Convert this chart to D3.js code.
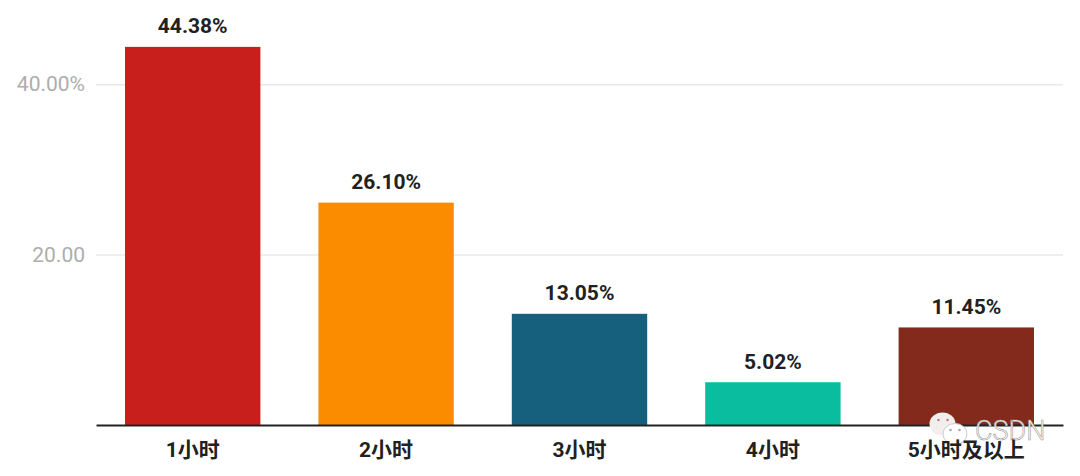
<!DOCTYPE html>
<html>
<head>
<meta charset="utf-8">
<script src="https://cdnjs.cloudflare.com/ajax/libs/d3/7.8.5/d3.min.js"></script>
<style>
  html, body { margin: 0; padding: 0; background: #fff; }
  svg { display: block; font-family: Roboto, "Noto Sans CJK SC", sans-serif; }
</style>
</head>
<body>
<svg id="chart"></svg>
<script>
const categories = ['1小时', '2小时', '3小时', '4小时', '5小时及以上'];
const values = [44.38, 26.10, 13.05, 5.02, 11.45];
const barColors = ['#c81e1c', '#fb8c00', '#17607d', '#0abd9f', '#842a1d'];
const tickValues = [20, 40];
const tickLabels = ['20.00', '40.00%'];

const width = 1080;
const height = 476;
const margin = { top: 0, right: 17, bottom: 51, left: 96 };

const svg = d3.select('#chart')
  .attr('width', width)
  .attr('height', height);

const xScale = d3.scaleBand()
  .domain(categories)
  .range([margin.left, width - margin.right])
  .paddingInner(0.3)
  .paddingOuter(0.15);

// 20 units is about 170px in the picture
const yScale = d3.scaleLinear()
  .domain([0, 50])
  .range([height - margin.bottom, height - margin.bottom - 426]);

// gridlines + tick labels
const yAxis = d3.axisLeft(yScale)
  .tickValues(tickValues)
  .tickSize(-(width - margin.left - margin.right))
  .tickPadding(11)
  .tickFormat((d, i) => tickLabels[i]);

svg.append('g')
  .attr('transform', `translate(${margin.left},0)`)
  .call(yAxis)
  .call((g) => g.select('.domain').remove())
  .call((g) => g.selectAll('.tick line').attr('stroke', '#e8e8e8').attr('stroke-width', 1.5))
  .call((g) => g.selectAll('.tick text')
    .attr('fill', '#adadad')
    .attr('font-family', 'Roboto, sans-serif')
    .attr('font-size', 21));

svg.append('g')
  .selectAll('rect')
  .data(values)
  .join('rect')
  .attr('x', (d, i) => xScale(categories[i]))
  .attr('y', (d) => yScale(d))
  .attr('width', xScale.bandwidth())
  .attr('height', (d) => yScale(0) - yScale(d))
  .attr('fill', (d, i) => barColors[i]);

// value labels above the bars
svg.append('g')
  .selectAll('text')
  .data(values)
  .join('text')
  .attr('x', (d, i) => xScale(categories[i]) + xScale.bandwidth() / 2)
  .attr('y', (d) => yScale(d) - 13.5)
  .attr('text-anchor', 'middle')
  .attr('font-size', 21)
  .attr('font-weight', 700)
  .attr('fill', '#212121')
  .text((d) => `${d.toFixed(2)}%`);

const xAxis = d3.axisBottom(xScale)
  .tickSize(0)
  .tickPadding(17);

// baseline goes under the watermark, category labels over it
svg.append('g')
  .attr('transform', `translate(0,${yScale(0)})`)
  .call(xAxis)
  .call((g) => g.selectAll('.tick').remove())
  .call((g) => g.select('.domain').attr('stroke', '#222').attr('stroke-width', 2));

// wechat style watermark
const mark = svg.append('g').attr('transform', 'translate(942.5,424)');
mark.append('ellipse').attr('cx', 0).attr('cy', 0).attr('rx', 13).attr('ry', 11.5)
  .attr('fill', '#f1eeed');
mark.append('ellipse').attr('cx', 12.5).attr('cy', 10).attr('rx', 12).attr('ry', 10.5)
  .attr('fill', '#fff').attr('stroke', '#ccc').attr('stroke-width', 1);
mark.selectAll('.eye')
  .data([[-4, -4, '#b9837a'], [5, -4, '#b9837a'], [8, 6, '#aaa'], [17, 6, '#aaa']])
  .join('circle')
  .attr('class', 'eye')
  .attr('cx', (d) => d[0])
  .attr('cy', (d) => d[1])
  .attr('r', 1.3)
  .attr('fill', (d) => d[2]);

svg.append('text')
  .attr('x', 975)
  .attr('y', 440)
  .attr('font-family', 'Roboto, sans-serif')
  .attr('font-size', 27)
  .attr('font-weight', 300)
  .attr('fill', '#fff')
  .attr('stroke', '#999')
  .attr('stroke-width', 0.6)
  .text('CSDN');

svg.append('g')
  .attr('transform', `translate(0,${yScale(0)})`)
  .call(xAxis)
  .call((g) => g.select('.domain').remove())
  .call((g) => g.selectAll('.tick text')
    .attr('fill', '#212121')
    .attr('font-family', 'Roboto, "Noto Sans CJK SC", sans-serif')
    .attr('font-size', 21)
    .attr('font-weight', 700));
</script>
</body>
</html>
